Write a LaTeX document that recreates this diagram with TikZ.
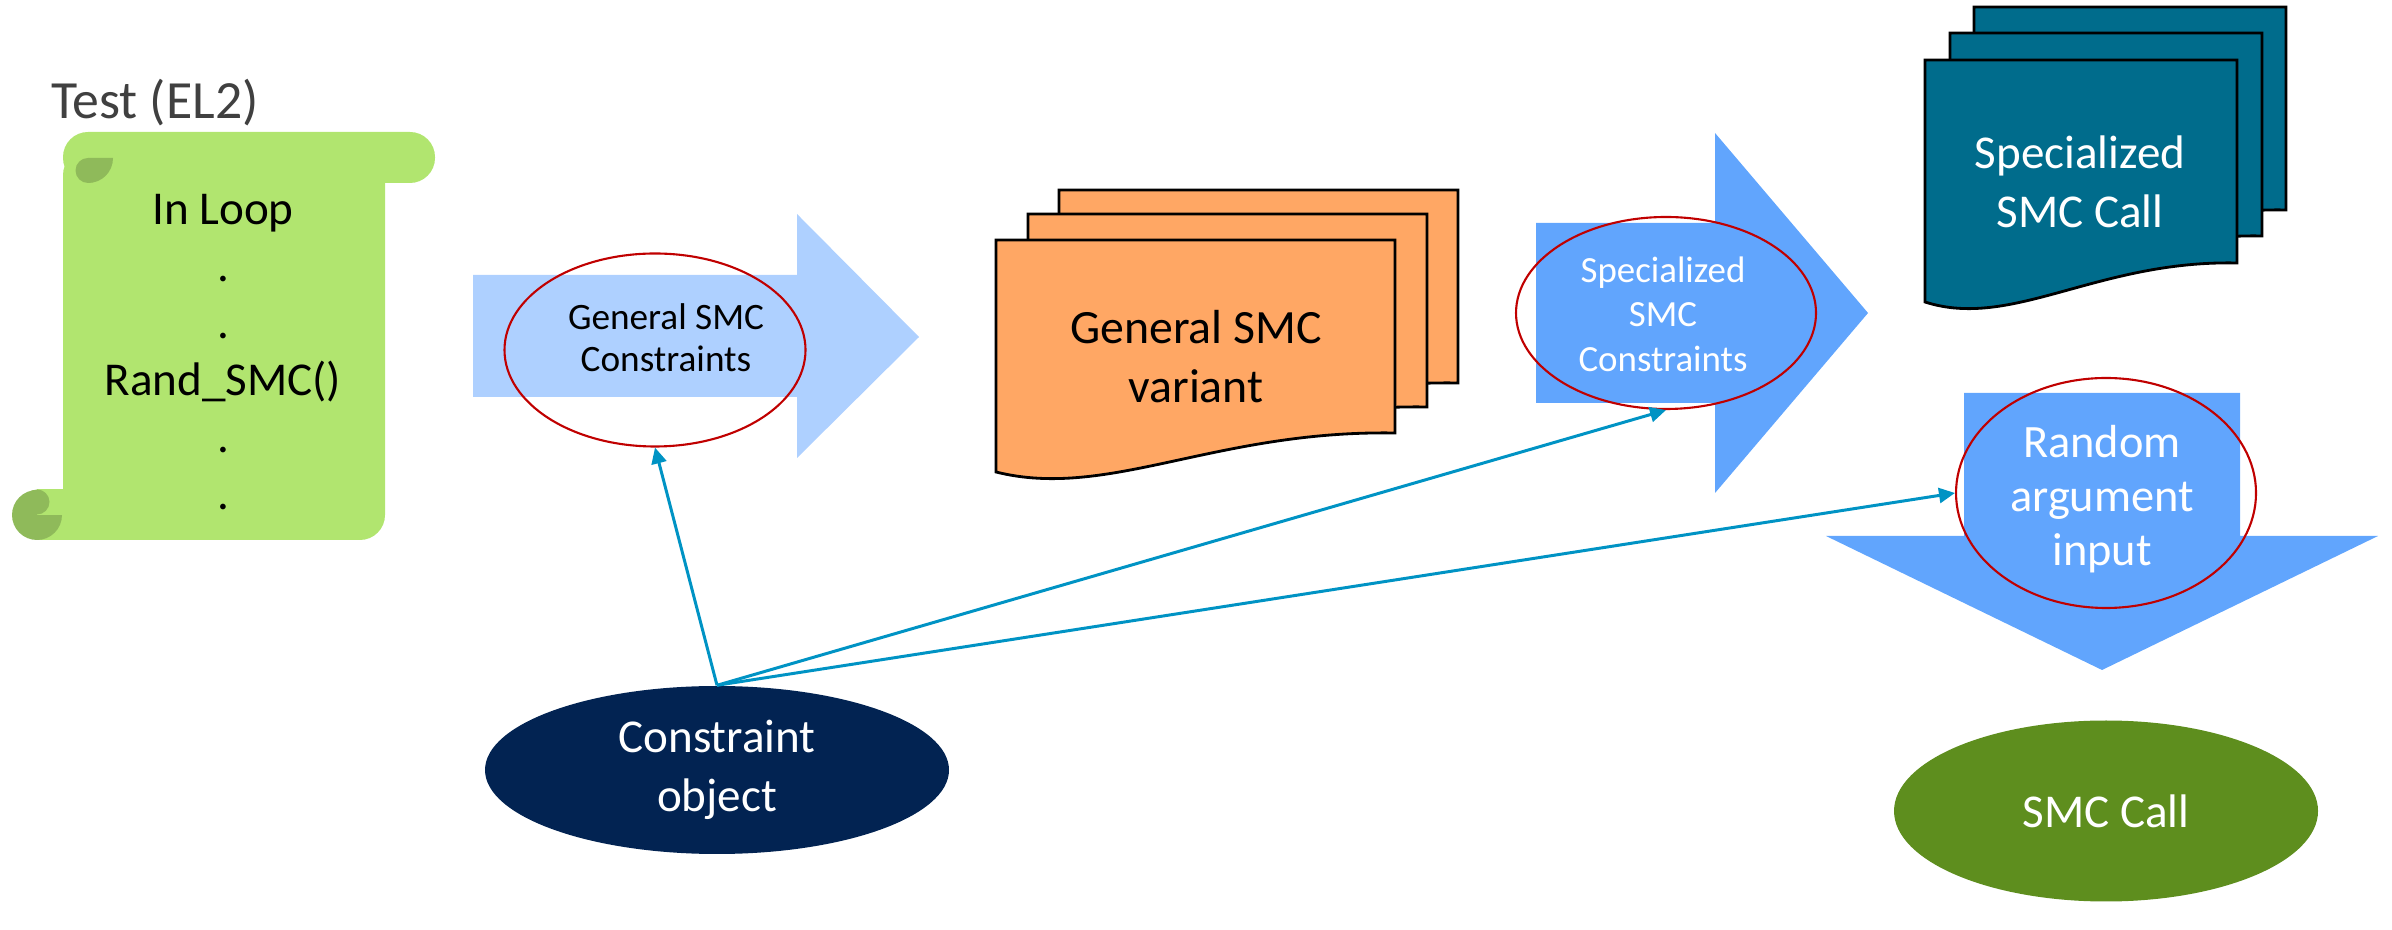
\documentclass[tikz,border=0pt]{standalone}
\usepackage{fontspec}
\setmainfont{Carlito}
\usetikzlibrary{shapes.geometric,arrows.meta}
\definecolor{scrollgreen}{RGB}{177,229,111}
\definecolor{scrolldark}{RGB}{143,186,90}
\definecolor{docorange}{RGB}{255,167,100}
\definecolor{lightarrow}{RGB}{174,208,255}
\definecolor{midarrow}{RGB}{97,165,253}
\definecolor{docteal}{RGB}{0,108,140}
\definecolor{objnavy}{RGB}{2,35,82}
\definecolor{callgreen}{RGB}{94,142,30}
\definecolor{linkblue}{RGB}{0,147,196}
\definecolor{ringred}{RGB}{192,0,0}
\definecolor{titlegray}{RGB}{64,64,64}

\begin{document}
\begin{tikzpicture}[x=0.1mm, y=-0.1mm,
    ring/.style={draw=ringred, line width=0.6pt, ellipse, inner sep=0pt},
    link/.style={draw=linkblue, line width=0.85pt, -{Triangle[length=1.6mm,width=1.5mm]}},
    doc/.style={draw=black, line width=0.8pt},
    txt/.style={inner sep=0pt, align=center}]
  \useasboundingbox (0,0) rectangle (2392,930);

  % the test scroll
  \node[txt, text=titlegray, font=\fontsize{15.3pt}{18pt}\selectfont] (title) at (155,103) {Test (EL2)};
  \fill[scrollgreen, rounded corners=2.5mm] (63,132) rectangle (435,183);
  \fill[scrollgreen, rounded corners=2.5mm] (63,150) rectangle (385,540);
  \fill[scrollgreen] (37,489) rectangle (100,540);
  \fill[scrolldark] (37,515) circle (25);
  \fill[scrollgreen] (37,489) rectangle (63,515);
  \fill[scrolldark] (37,502) circle (12.5);
  \fill[scrolldark] (88,170.5) circle (12.5);
  \fill[scrolldark] (88,158) -- (113,158) .. controls (113,172) and (102,183) .. (88,183) -- cycle;
  \node[txt, font=\fontsize{13.4pt}{16.2pt}\selectfont] (loop) at (223,352)
    {In Loop\\.\\.\\Rand\_SMC()\\.\\.};

  % general constraints
  \fill[lightarrow] (473,275) -- (797,275) -- (797,214) -- (919,337) -- (797,458) -- (797,397) -- (473,397) -- cycle;
  \node[txt, font=\fontsize{10.6pt}{12pt}\selectfont] (gentext) at (666,338) {General SMC\\Constraints};
  \node[ring, minimum width=30.1mm, minimum height=19.3mm] (gencon) at (655,350) {};

  % general variants
  \foreach \dx/\dy in {63/-50, 32/-26, 0/0}
    \draw[doc, fill=docorange, shift={(\dx,\dy)}] (996,240) -- (1395,240) -- (1395,433)
      .. controls (1215,430) and (1108,500) .. (996,472) -- cycle;
  \node[txt, font=\fontsize{13.6pt}{16.8pt}\selectfont] (genvar) at (1196,357) {General SMC\\variant};

  % specialized constraints
  \fill[midarrow] (1536,223) -- (1715,223) -- (1715,133) -- (1868,313) -- (1715,493) -- (1715,403) -- (1536,403) -- cycle;
  \node[txt, text=white, font=\fontsize{10.5pt}{12.7pt}\selectfont] (spectext) at (1663,314) {Specialized\\SMC\\Constraints};
  \node[ring, minimum width=30mm, minimum height=19.2mm] (specon) at (1666,313) {};

  % specialized calls
  \foreach \dx/\dy in {49/-53, 25/-27, 0/0}
    \draw[doc, fill=docteal, shift={(\dx,\dy)}] (1925,60) -- (2237,60) -- (2237,263)
      .. controls (2097,260) and (2012,330) .. (1925,302) -- cycle;
  \node[txt, text=white, font=\fontsize{13.4pt}{16.8pt}\selectfont] (speccall) at (2080,182) {Specialized\\SMC Call};

  % random input
  \fill[midarrow] (1964,393) -- (2240,393) -- (2240,536) -- (2378,536) -- (2102,670) -- (1826,536) -- (1964,536) -- cycle;
  \node[txt, text=white, font=\fontsize{13.2pt}{15.4pt}\selectfont] (randtext) at (2102,499) {Random\\argument\\input};
  \node[ring, minimum width=30mm, minimum height=23mm] (randin) at (2106,493) {};

  \node[ellipse, fill=callgreen, text=white, inner sep=0pt, minimum width=42.4mm, minimum height=18.1mm,
    font=\fontsize{13.4pt}{16.8pt}\selectfont] (smccall) at (2106,811) {SMC Call};

  \node[ellipse, fill=objnavy, text=white, inner sep=0pt, align=center, minimum width=46.4mm, minimum height=16.8mm,
    font=\fontsize{13.4pt}{16.8pt}\selectfont] (cobj) at (717,770) {Constraint\\object};

  \draw[link] (cobj.north) -- (gencon.south);
  \draw[link] (cobj.north) -- (specon.south);
  \draw[link] (cobj.north) -- (randin.west);
\end{tikzpicture}
\end{document}
